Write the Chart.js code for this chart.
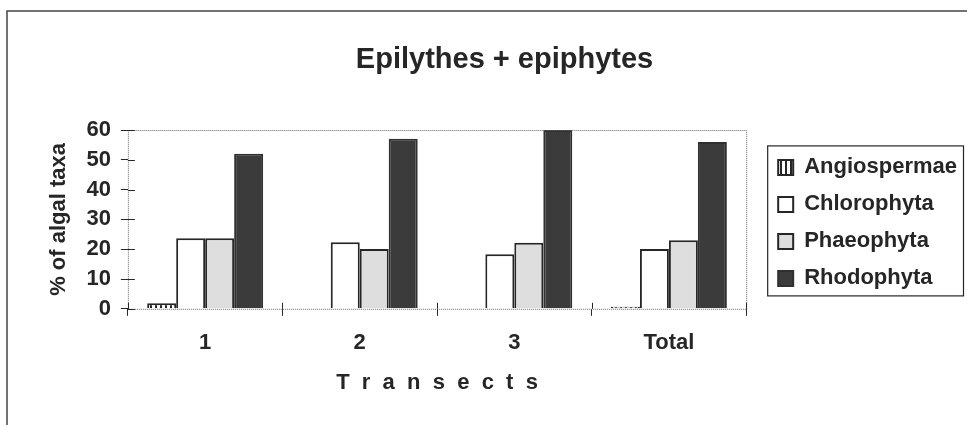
<!DOCTYPE html>
<html>
<head>
<meta charset="utf-8">
<script src="https://cdn.jsdelivr.net/npm/chart.js@4/dist/chart.umd.min.js"></script>
<style>
  html, body { margin: 0; padding: 0; background: #fff; }
  #wrap { width: 967px; height: 425px; }
</style>
</head>
<body>
<div id="wrap"><canvas id="grafica" width="967" height="425"></canvas></div>
<script>
// datos
const transectos = ['1', '2', '3', 'Total'];
const angiospermae = [1.9, 0, 0, 0.7];
const chlorophyta = [23.7, 22.3, 18.3, 20.1];
const phaeophyta = [23.7, 20.1, 22.2, 23.0];
const rhodophyta = [52.0, 57.1, 60.0, 56.0];
const ticksY = [0, 10, 20, 30, 40, 50, 60];

const tinta = '#262626';
const letra = 'Liberation Sans, Arial';

// trama de rayas verticales para Angiospermae
function trama() {
  const c = document.createElement('canvas');
  c.width = 5; c.height = 5;
  const g = c.getContext('2d');
  g.fillStyle = '#fff';
  g.fillRect(0, 0, 5, 5);
  g.fillStyle = tinta;
  g.fillRect(0, 0, 2, 5);
  return g.createPattern(c, 'repeat');
}
const rayas = trama();

// marco exterior, borde punteado del area y marcas cruzadas
const marco = {
  id: 'marco',
  beforeDraw(chart) {
    const ctx = chart.ctx;
    ctx.save();
    ctx.fillStyle = '#fff';
    ctx.fillRect(0, 0, chart.width, chart.height);
    ctx.strokeStyle = '#444';
    ctx.lineWidth = 1.5;
    ctx.beginPath();
    ctx.moveTo(7, chart.height);
    ctx.lineTo(7, 11);
    ctx.lineTo(chart.width, 11);
    ctx.stroke();
    ctx.restore();
  },
  afterDatasetsDraw(chart) {
    const ctx = chart.ctx;
    const a = chart.chartArea;
    ctx.save();
    ctx.strokeStyle = '#666';
    ctx.lineWidth = 1;
    ctx.setLineDash([1, 1]);
    ctx.strokeRect(a.left + 0.5, a.top + 0.5, a.right - a.left, a.bottom - a.top);
    ctx.setLineDash([]);
    ctx.strokeStyle = tinta;
    ctx.beginPath();
    const y = chart.scales.y;
    y.ticks.forEach(t => {
      const py = Math.round(y.getPixelForValue(t.value)) + 0.5;
      ctx.moveTo(a.left, py);
      ctx.lineTo(a.left + 7, py);
    });
    const n = transectos.length;
    for (let i = 0; i <= n; i++) {
      const px = Math.round(a.left + i * (a.right - a.left) / n) + 0.5;
      ctx.moveTo(px, a.bottom);
      ctx.lineTo(px, a.bottom - 6);
    }
    ctx.stroke();
    // recuadro de la leyenda
    const l = chart.legend;
    const cajas = l.legendHitBoxes;
    if (cajas && cajas.length) {
      const x0 = cajas[0].left - 11;
      const y0 = cajas[0].top - 11;
      const y1 = cajas[cajas.length - 1].top + 28;
      const x1 = Math.min(l.right - 4, chart.width - 4);
      ctx.lineWidth = 1.2;
      ctx.strokeRect(x0 + 0.5, y0 + 0.5, x1 - x0, y1 - y0);
    }
    ctx.restore();
  }
};

const grafica = document.getElementById('grafica');

new Chart(grafica, {
  type: 'bar',
  data: {
    labels: transectos,
    datasets: [
      { label: 'Angiospermae', data: angiospermae, backgroundColor: rayas, borderColor: tinta, borderWidth: 2 },
      { label: 'Chlorophyta', data: chlorophyta, backgroundColor: '#ffffff', borderColor: tinta, borderWidth: 2 },
      { label: 'Phaeophyta', data: phaeophyta, backgroundColor: '#dedede', borderColor: tinta, borderWidth: 2 },
      { label: 'Rhodophyta', data: rhodophyta, backgroundColor: '#3b3b3b', borderColor: '#303030', borderWidth: 2 }
    ]
  },
  options: {
    responsive: false,
    animation: false,
    datasets: { bar: { categoryPercentage: 0.75, barPercentage: 1.0 } },
    layout: { padding: { top: 14, left: 42, right: 0, bottom: 28.4 } },
    plugins: {
      title: {
        display: true,
        text: 'Epilythes + epiphytes',
        color: tinta,
        font: { family: letra, size: 29, weight: 'bold' },
        padding: { top: 28.6, bottom: 52.6 }
      },
      legend: {
        position: 'right',
        maxWidth: 240,
        title: { display: true, text: '', font: { size: 1 }, padding: { top: 34, bottom: 0 } },
        labels: {
          color: tinta,
          font: { family: letra, size: 22, weight: 'bold' },
          boxWidth: 15,
          boxHeight: 15,
          padding: 15
        }
      },
      tooltip: { enabled: false }
    },
    scales: {
      x: {
        grid: { display: true, drawOnChartArea: false, tickLength: 7, color: tinta, offset: true },
        border: { display: false },
        ticks: { color: tinta, padding: 14, font: { family: letra, size: 22, weight: 'bold' } },
        title: {
          display: true,
          text: 'T  r  a  n  s  e  c  t  s',
          color: tinta,
          font: { family: letra, size: 22, weight: 'bold' },
          padding: { top: 0, bottom: 0 }
        }
      },
      y: {
        min: 0,
        max: 60,
        afterBuildTicks: s => { s.ticks = ticksY.map(v => ({ value: v })); },
        grid: { display: true, drawOnChartArea: false, tickLength: 7, color: tinta },
        border: { display: false },
        ticks: { color: tinta, padding: 10, autoSkip: false, font: { family: letra, size: 22, weight: 'bold' } },
        title: {
          display: true,
          text: '% of algal taxa',
          color: tinta,
          font: { family: letra, size: 22, weight: 'bold' },
          padding: { top: 4, bottom: 4 }
        }
      },
      hueco: {
        type: 'linear',
        position: 'right',
        display: true,
        grid: { display: false },
        border: { display: false },
        ticks: { display: false },
        afterFit: s => { s.width = 17; }
      }
    }
  },
  plugins: [marco]
});
</script>
</body>
</html>
